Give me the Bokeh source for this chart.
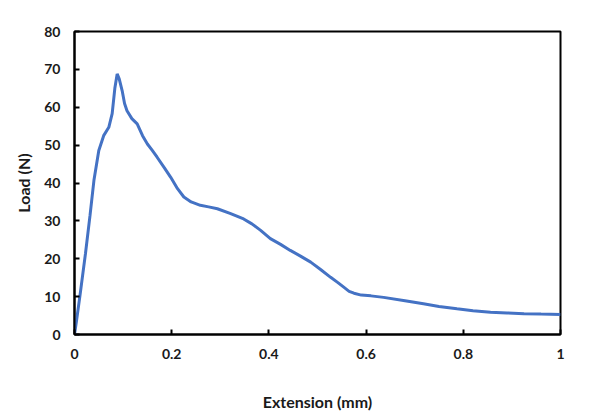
from bokeh.plotting import figure
from bokeh.models import FixedTicker, Range1d
from bokeh.embed import file_html
from bokeh.resources import INLINE

extension = [0.0, 0.004, 0.012, 0.0226, 0.032, 0.040, 0.050, 0.060, 0.0706, 0.0775, 0.083, 0.0878,
             0.092, 0.098, 0.103, 0.108, 0.118, 0.129, 0.140, 0.150, 0.160, 0.170, 0.185, 0.198,
             0.212, 0.225, 0.240, 0.259, 0.276, 0.294, 0.320, 0.348, 0.365, 0.383, 0.403,
             0.424, 0.444, 0.465, 0.486, 0.507, 0.527, 0.542, 0.554, 0.565, 0.575, 0.590,
             0.610, 0.636, 0.680, 0.718, 0.750, 0.787, 0.820, 0.856, 0.890, 0.925, 0.960, 1.0]
load = [0.0, 3.5, 11.0, 21.4, 31.5, 40.7, 48.6, 52.5, 54.7, 58.3, 65.0, 68.8,
        67.5, 64.4, 61.0, 59.1, 57.0, 55.6, 52.5, 50.3, 48.6, 46.8, 44.0, 41.5,
        38.5, 36.3, 35.0, 34.1, 33.7, 33.2, 32.0, 30.5, 29.2, 27.5, 25.3,
        23.8, 22.2, 20.7, 19.1, 17.1, 15.1, 13.7, 12.5, 11.4, 10.9, 10.4,
        10.2, 9.8, 8.9, 8.1, 7.4, 6.8, 6.3, 5.9, 5.7, 5.5, 5.4, 5.3]

x_ticks = [0, 0.2, 0.4, 0.6, 0.8, 1.0]
y_ticks = [0, 10, 20, 30, 40, 50, 60, 70, 80]
x_tick_labels = {0: "0", 0.2: "0.2", 0.4: "0.4", 0.6: "0.6", 0.8: "0.8", 1.0: "1"}

FONT = "Lato"

p = figure(width=600, height=417, output_backend="svg", toolbar_location=None,
           x_range=Range1d(0, 1), y_range=Range1d(0, 80),
           min_border_left=74, min_border_right=40, min_border_top=31, min_border_bottom=83)

p.line(extension, load, line_color="#4472C4", line_width=3)

p.xgrid.visible = False
p.ygrid.visible = False
p.outline_line_color = "black"
p.outline_line_width = 2
p.outline_line_alpha = 1

for ax in (p.xaxis[0], p.yaxis[0]):
    ax.axis_line_color = "black"
    ax.axis_line_width = 2
    ax.major_tick_in = 5
    ax.major_tick_out = 0
    ax.major_tick_line_width = 2
    ax.major_tick_line_color = "black"
    ax.minor_tick_line_color = None
    ax.major_label_text_font = FONT
    ax.major_label_text_font_style = "bold"
    ax.major_label_text_font_size = "14px"
    ax.major_label_text_color = "#1a1a1a"
    ax.axis_label_text_font = FONT
    ax.axis_label_text_font_style = "bold"
    ax.axis_label_text_font_size = "16px"
    ax.axis_label_text_color = "#1a1a1a"

p.xaxis.ticker = FixedTicker(ticks=x_ticks)
p.yaxis.ticker = FixedTicker(ticks=y_ticks)
p.xaxis.major_label_overrides = x_tick_labels
p.xaxis.axis_label = "Extension (mm)"
p.yaxis.axis_label = "Load (N)"
p.xaxis.major_label_standoff = 14
p.yaxis.major_label_standoff = 14
p.xaxis.axis_label_standoff = 30
p.yaxis.axis_label_standoff = 8

open("out.html", "w").write(file_html(p, INLINE))
